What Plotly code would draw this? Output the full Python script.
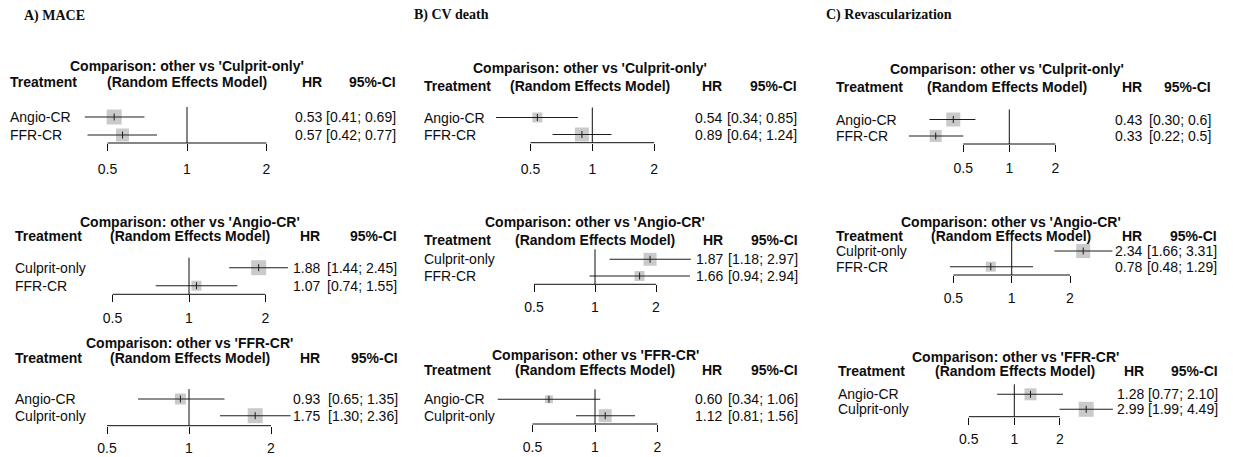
import math
import plotly.graph_objects as go

W, H = 1233, 457

# ---------------- data ----------------
outcome_titles = ["A) MACE", "B) CV death", "C) Revascularization"]
comparators = ["Culprit-only", "Angio-CR", "FFR-CR"]
treatments = [["Angio-CR", "FFR-CR"], ["Culprit-only", "FFR-CR"], ["Angio-CR", "Culprit-only"]]

# MACE (per comparator: two treatments)
mace_hr = [["0.53", "0.57"], ["1.88", "1.07"], ["0.93", "1.75"]]
mace_lo = [["0.41", "0.42"], ["1.44", "0.74"], ["0.65", "1.30"]]
mace_hi = [["0.69", "0.77"], ["2.45", "1.55"], ["1.35", "2.36"]]
# CV death
cvd_hr = [["0.54", "0.89"], ["1.87", "1.66"], ["0.60", "1.12"]]
cvd_lo = [["0.34", "0.64"], ["1.18", "0.94"], ["0.34", "0.81"]]
cvd_hi = [["0.85", "1.24"], ["2.97", "2.94"], ["1.06", "1.56"]]
# Revascularization
rev_hr = [["0.43", "0.33"], ["2.34", "0.78"], ["1.28", "2.99"]]
rev_lo = [["0.30", "0.22"], ["1.66", "0.48"], ["0.77", "1.99"]]
rev_hi = [["0.6", "0.5"], ["3.31", "1.29"], ["2.10", "4.49"]]

tick_vals = [0.5, 1, 2]
tick_labels = ["0.5", "1", "2"]

# ---------------- styling / layout geometry (pixels) ----------------
hr_all = [mace_hr, cvd_hr, rev_hr]
lo_all = [mace_lo, cvd_lo, rev_lo]
hi_all = [mace_hi, cvd_hi, rev_hi]

box_px = [
    [[15, 13], [15, 10], [11, 15]],
    [[10, 14], [13, 10], [8, 13]],
    [[14, 12], [14, 10], [12, 15]],
]

outcome_pos = [(24, 16), (414, 15), (826, 15)]

geom = [
    [
        dict(left=10, center=187, hr_r=322, ci_r=396, t1=66, t2=82, row1=117, row2=135, axis=143, px1=187, ppu=79.5, tl=168),
        dict(left=15, center=190, hr_r=320, ci_r=397, t1=221.5, t2=236, row1=267.7, row2=285.7, axis=294.3, px1=189, ppu=76.5, tl=318),
        dict(left=15, center=190, hr_r=320, ci_r=398, t1=343, t2=358, row1=399, row2=415.7, axis=425.7, px1=189, ppu=82, tl=446.7),
    ],
    [
        dict(left=424, center=590, hr_r=722, ci_r=797, t1=68, t2=86, row1=117.5, row2=134.5, axis=142.7, px1=592.3, ppu=61.8, tl=168),
        dict(left=424, center=595, hr_r=722.5, ci_r=798, t1=222, t2=240, row1=259.3, row2=276, axis=284.3, px1=595, ppu=61, tl=307),
        dict(left=424, center=595, hr_r=722, ci_r=798, t1=355, t2=370, row1=399.3, row2=415.7, axis=424, px1=595, ppu=62.5, tl=446.7),
    ],
    [
        dict(left=836, center=1007, hr_r=1141.7, ci_r=1211, t1=69, t2=87, row1=119.5, row2=136, axis=144, px1=1009.3, ppu=46, tl=168),
        dict(left=836, center=1011, hr_r=1141.7, ci_r=1217, t1=221.7, t2=236, row1=251, row2=266.7, axis=275, px1=1011.7, ppu=58.3, tl=297.3),
        dict(left=838, center=1015, hr_r=1143.5, ci_r=1218, t1=356.7, t2=371, row1=394.3, row2=409.3, axis=416.7, px1=1014.3, ppu=45.5, tl=438.3),
    ],
]

SANS = "Liberation Sans, Arial, sans-serif"
SERIF = "Liberation Serif, Times New Roman, serif"
TXT = "#0d0d0d"
FS = 14
TICKLEN = 7
PAD = 2  # annotation box padding compensation

fig = go.Figure()
annotations = []
shapes = []
axes_layout = {}


def px_x(x):
    return x / W


def px_y(y):
    return 1 - y / H


def ann(text, x, y, xanchor, bold=False, size=FS, family=SANS):
    if xanchor == "left":
        x -= PAD
    elif xanchor == "right":
        x += PAD
    annotations.append(dict(
        text=f"<b>{text}</b>" if bold else text,
        x=px_x(x), y=px_y(y), xref="paper", yref="paper",
        xanchor=xanchor, yanchor="middle", showarrow=False,
        font=dict(family=family, size=size, color=TXT),
    ))


for c, (tx, ty) in enumerate(outcome_pos):
    ann(outcome_titles[c], tx, ty, "left", bold=True, size=14, family=SERIF)

log2 = math.log10(2)
k = 0
for c in range(3):
    for r in range(3):
        k += 1
        g = geom[c][r]
        xa = "x" if k == 1 else f"x{k}"
        ya = "y" if k == 1 else f"y{k}"
        xname = "xaxis" if k == 1 else f"xaxis{k}"
        yname = "yaxis" if k == 1 else f"yaxis{k}"

        hr = [float(v) for v in hr_all[c][r]]
        lo = [float(v) for v in lo_all[c][r]]
        hi = [float(v) for v in hi_all[c][r]]
        rows = [1, 2]

        ref_top = g["row1"] - 10
        d = g["row2"] - g["row1"]
        v_top = 1 - (g["row1"] - ref_top) / d
        v_bot = 2 + (g["axis"] - g["row2"]) / d

        L = max(1, g["px1"] - 2.6 * g["ppu"])
        R = g["px1"] + 2.4 * g["ppu"]
        xrange = [(L - g["px1"]) / g["ppu"] * log2, (R - g["px1"]) / g["ppu"] * log2]

        # boxes
        fig.add_trace(go.Scatter(
            x=hr, y=rows, mode="markers", xaxis=xa, yaxis=ya,
            marker=dict(symbol="square", size=box_px[c][r], color="#b4b4b4", line=dict(width=0)),
            hoverinfo="skip", showlegend=False, cliponaxis=False,
        ))
        # CI lines
        xs, ys = [], []
        for i in range(2):
            xs += [lo[i], hi[i], None]
            ys += [rows[i], rows[i], None]
        fig.add_trace(go.Scatter(
            x=xs, y=ys, mode="lines", xaxis=xa, yaxis=ya,
            line=dict(color="#1e1e1e", width=1.1),
            hoverinfo="skip", showlegend=False,
        ))
        # point estimate tick
        fig.add_trace(go.Scatter(
            x=hr, y=rows, mode="markers", xaxis=xa, yaxis=ya,
            marker=dict(symbol="line-ns", size=5, line=dict(color="#1e1e1e", width=1)),
            hoverinfo="skip", showlegend=False, cliponaxis=False,
        ))

        standoff = int(round(max(0, (g["tl"] - g["axis"]) - TICKLEN - 12.5)))
        axes_layout[xname] = dict(
            domain=[px_x(L), px_x(R)], type="log", range=xrange, anchor=ya,
            showgrid=False, zeroline=False, showline=False,
            tickmode="array", tickvals=tick_vals, ticktext=tick_labels,
            ticks="outside", ticklen=TICKLEN, tickwidth=1, tickcolor=TXT,
            tickfont=dict(family=SANS, size=FS, color=TXT),
            ticklabelstandoff=standoff, fixedrange=True,
        )
        axes_layout[yname] = dict(
            domain=[px_y(g["axis"]), px_y(ref_top)], range=[v_bot, v_top],
            anchor=xa, visible=False, fixedrange=True,
        )

        # axis line between outer ticks and reference line at 1
        shapes.append(dict(type="line", xref=xa, yref=f"{ya} domain",
                           x0=tick_vals[0], x1=tick_vals[-1], y0=0, y1=0,
                           line=dict(color=TXT, width=1)))
        shapes.append(dict(type="line", xref=xa, yref=f"{ya} domain",
                           x0=1, x1=1, y0=0, y1=1,
                           line=dict(color=TXT, width=1)))

        # texts
        ann(f"Comparison: other vs '{comparators[r]}'", g["center"], g["t1"], "center", bold=True)
        ann("Treatment", g["left"], g["t2"], "left", bold=True)
        ann("(Random Effects Model)", g["center"], g["t2"], "center", bold=True)
        ann("HR", g["hr_r"], g["t2"], "right", bold=True)
        ann("95%-CI", g["ci_r"], g["t2"], "right", bold=True)
        row_px = [g["row1"], g["row2"]]
        for i in range(2):
            ann(treatments[r][i], g["left"], row_px[i], "left")
            ann(hr_all[c][r][i], g["hr_r"], row_px[i], "right")
            ann(f"[{lo_all[c][r][i]}; {hi_all[c][r][i]}]", g["ci_r"], row_px[i], "right")

fig.update_layout(
    width=W, height=H,
    margin=dict(l=0, r=0, t=0, b=0),
    paper_bgcolor="white", plot_bgcolor="rgba(0,0,0,0)",
    showlegend=False,
    annotations=annotations, shapes=shapes,
    **axes_layout,
)

fig.write_html(
    "out.html",
    config={"displayModeBar": False},
    post_script="document.body.style.margin='0px';document.body.style.overflow='hidden';",
)
